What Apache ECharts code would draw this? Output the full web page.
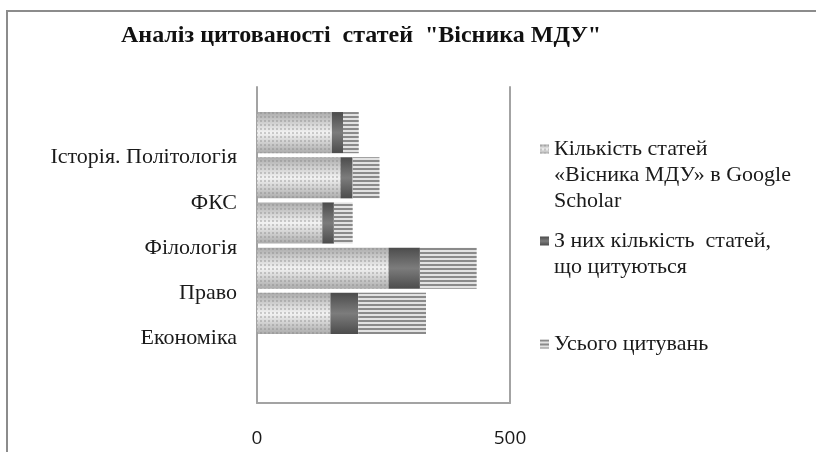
<!DOCTYPE html>
<html>
<head>
<meta charset="utf-8">
<script src="https://cdn.jsdelivr.net/npm/echarts@6/dist/echarts.min.js"></script>
<style>
  html, body { margin: 0; padding: 0; background: #fff; }
  #chart { width: 816px; height: 452px; }
</style>
</head>
<body>
<div id="chart"></div>
<script>
// categories, bottom to top as Excel draws them
const categories = ['Економіка', 'Право', 'Філологія', 'ФКС', 'Історія. Політологія'];
const articlesScholar = [145, 260, 129, 165, 148];
const articlesCited = [55, 62, 23, 24, 22];
const citationsTotal = [134, 112, 37, 53, 31];
const seriesNames = [
    'Кількість статей «Вісника МДУ» в Google Scholar',
    'З них кількість статей, що цитуються',
    'Усього цитувань'
];
const xTicks = [0, 500];

const serif = 'Liberation Serif';
const frameColor = '#a3a3a3';
const lineH = 26;

const chart = echarts.init(document.getElementById('chart'));

function vGrad(edge, mid) {
    return new echarts.graphic.LinearGradient(0, 0, 0, 1, [
        { offset: 0, color: edge },
        { offset: 0.5, color: mid },
        { offset: 1, color: edge }
    ]);
}

// legend text is centred on its icon, so pad with empty lines on top
// to bring the first line level with the icon
function legendAt(name, top, lines) {
    const label = '\n'.repeat(lines.length - 1) + lines.join('\n');
    return {
        data: [{ name: name, icon: 'rect' }],
        orient: 'vertical',
        left: 540,
        top: top,
        padding: 0,
        itemWidth: 9,
        itemHeight: 9,
        itemGap: 0,
        formatter: () => label,
        textStyle: {
            fontFamily: serif,
            fontSize: 22,
            lineHeight: lineH,
            color: '#1a1a1a'
        }
    };
}

const option = {
    backgroundColor: '#fff',
    animation: false,
    title: {
        text: 'Аналіз цитованості  статей  "Вісника МДУ"',
        left: 121,
        top: 24,
        padding: 0,
        textStyle: {
            fontFamily: serif,
            fontWeight: 'bold',
            fontSize: 24,
            color: '#111'
        }
    },
    legend: [
        legendAt(seriesNames[0], 84, ['Кількість статей', '«Вісника МДУ» в Google', 'Scholar']),
        legendAt(seriesNames[1], 202, ['З них кількість  статей,', 'що цитуються']),
        legendAt(seriesNames[2], 331, ['Усього цитувань'])
    ],
    graphic: [{
        type: 'rect',
        shape: { x: 7, y: 11, width: 900, height: 600 },
        style: { fill: 'none', stroke: '#8c8c8c', lineWidth: 2 },
        silent: true
    }],
    grid: [
        { left: 257, right: 306, top: 87, bottom: 49 },
        { left: 257, right: 306, top: 110, bottom: 116 }
    ],
    xAxis: [
        {
            gridIndex: 0,
            type: 'value',
            min: xTicks[0],
            max: xTicks[xTicks.length - 1],
            interval: xTicks[1] - xTicks[0],
            axisLine: { show: true, lineStyle: { color: frameColor, width: 2 } },
            axisTick: { show: false },
            splitLine: { show: false },
            axisLabel: {
                fontFamily: 'Open Sans',
                fontSize: 19,
                color: '#1a1a1a',
                margin: 26
            }
        },
        {
            gridIndex: 1,
            type: 'value',
            min: xTicks[0],
            max: xTicks[xTicks.length - 1],
            show: false
        }
    ],
    yAxis: [
        {
            gridIndex: 0,
            type: 'value',
            position: 'left',
            axisLine: { show: true, lineStyle: { color: frameColor, width: 2 } },
            axisTick: { show: false },
            axisLabel: { show: false },
            splitLine: { show: false }
        },
        {
            gridIndex: 0,
            type: 'value',
            position: 'right',
            axisLine: { show: true, lineStyle: { color: frameColor, width: 2 } },
            axisTick: { show: false },
            axisLabel: { show: false },
            splitLine: { show: false }
        },
        {
            gridIndex: 1,
            type: 'category',
            data: categories,
            axisLine: { show: false },
            axisTick: { show: false },
            axisLabel: {
                interval: 0,
                showMinLabel: true,
                showMaxLabel: true,
                hideOverlap: false,
                fontFamily: serif,
                fontSize: 22,
                lineHeight: 50,
                color: '#1a1a1a',
                margin: 20,
                // Excel put the names half a row below their bars
                formatter: v => '\n' + v
            }
        }
    ],
    series: [
        {
            name: seriesNames[0],
            type: 'bar',
            stack: 'total',
            xAxisIndex: 1,
            yAxisIndex: 2,
            barCategoryGap: '9%',
            data: articlesScholar,
            itemStyle: {
                color: vGrad('#ababab', '#f2f2f2'),
                decal: {
                    symbol: 'rect',
                    symbolSize: 1,
                    dashArrayX: [2, 2],
                    dashArrayY: [2, 2],
                    color: 'rgba(130,130,130,0.35)'
                }
            }
        },
        {
            name: seriesNames[1],
            type: 'bar',
            stack: 'total',
            xAxisIndex: 1,
            yAxisIndex: 2,
            data: articlesCited,
            itemStyle: {
                color: vGrad('#4c4c4c', '#7c7c7c')
            }
        },
        {
            name: seriesNames[2],
            type: 'bar',
            stack: 'total',
            xAxisIndex: 1,
            yAxisIndex: 2,
            data: citationsTotal,
            itemStyle: {
                color: '#e2e2e2',
                decal: {
                    symbol: 'rect',
                    symbolSize: 1,
                    dashArrayX: [1, 0],
                    dashArrayY: [2, 2],
                    color: '#8a8a8a'
                }
            }
        }
    ]
};

chart.setOption(option);
</script>
</body>
</html>
